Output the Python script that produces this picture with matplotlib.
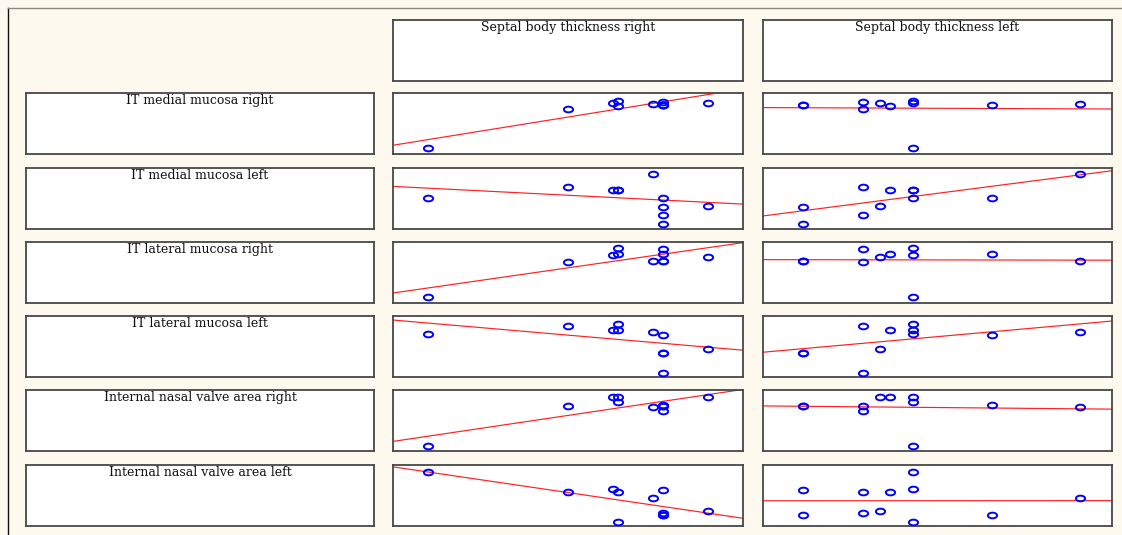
import numpy as np
import matplotlib
matplotlib.use("Agg")
import matplotlib.pyplot as plt
from matplotlib.path import Path
from matplotlib.lines import Line2D

# ---- data (one entry per subject) ----
septal_right = [1.4, 7.0, 8.8, 9.0, 9.0, 10.4, 10.8, 10.8, 10.8, 10.8, 12.6]
septal_left = [6.0, 4.0, 6.0, 5.1, 6.0, 12.7, 9.2, 1.6, 4.0, 1.6, 4.7]

it_medial_right = [1.0, 7.3, 8.4, 7.9, 8.7, 8.2, 8.1, 8.1, 8.5, 8.1, 8.4]
it_medial_left = [5.1, 6.9, 6.4, 6.4, 6.4, 9.0, 5.1, 3.6, 2.3, 0.8, 3.8]
it_lateral_right = [1.0, 6.7, 7.9, 8.0, 9.0, 6.9, 8.1, 6.9, 8.9, 6.9, 7.5]
it_lateral_left = [7.0, 8.4, 7.7, 7.7, 8.7, 7.4, 6.9, 3.9, 0.7, 3.9, 4.6]
valve_area_right = [0.8, 7.4, 8.9, 8.9, 8.0, 7.2, 7.5, 7.4, 6.6, 7.4, 8.9]
valve_area_left = [8.9, 5.6, 6.1, 5.6, 0.7, 4.6, 1.8, 5.9, 2.1, 1.8, 2.5]

column_labels = ["Septal body thickness right", "Septal body thickness left"]
row_labels = [
    "IT medial mucosa right",
    "IT medial mucosa left",
    "IT lateral mucosa right",
    "IT lateral mucosa left",
    "Internal nasal valve area right",
    "Internal nasal valve area left",
]

x_vars = [septal_right, septal_left]
y_vars = [it_medial_right, it_medial_left, it_lateral_right,
          it_lateral_left, valve_area_right, valve_area_left]

# ---- layout ----
W, H = 1122, 535
BG = "#fdf9ee"
fig = plt.figure(figsize=(W / 100, H / 100), dpi=100, facecolor=BG)

col_edges = [(26, 374), (393, 743), (763, 1112)]
row_tops = [20, 93, 168, 242, 316, 390, 465]
row_h = 61

FONT = dict(family="DejaVu Serif", size=9, color="#111111")

# open, slightly flattened circle marker
t = np.linspace(0, 2 * np.pi, 73)
ring = Path(np.column_stack([np.cos(t), 0.62 * np.sin(t)]), closed=True)


def panel(col, row):
    x0, x1 = col_edges[col]
    top = row_tops[row]
    ax = fig.add_axes([x0 / W, 1 - (top + row_h) / H, (x1 - x0) / W, row_h / H])
    ax.set_facecolor("white")
    ax.set_xticks([])
    ax.set_yticks([])
    for s in ax.spines.values():
        s.set_color("#474747")
        s.set_linewidth(1.3)
    return ax


def title(ax, text):
    ax.annotate(text, xy=(0.5, 1.0), xycoords="axes fraction",
                xytext=(0, -0.5), textcoords="offset points",
                ha="center", va="top", **FONT)


# header boxes
for c, lab in enumerate(column_labels):
    title(panel(c + 1, 0), lab)

# row label boxes and scatter panels
for r, lab in enumerate(row_labels):
    title(panel(0, r + 1), lab)
    y = np.asarray(y_vars[r], dtype=float)
    for c, xv in enumerate(x_vars):
        x = np.asarray(xv, dtype=float)
        ax = panel(c + 1, r + 1)
        ax.set_xlim(0, 14)
        ax.set_ylim(0, 10)
        slope, icpt = np.polyfit(x, y, 1)
        xs = np.array([0, 14])
        ax.plot(xs, icpt + slope * xs, color="#ff2020", lw=0.85, zorder=2)
        ax.plot(x, y, linestyle="none", marker=ring, markersize=6.6,
                markerfacecolor="none", markeredgecolor="#0000ff",
                markeredgewidth=1.4, zorder=3, clip_on=False)

# outer frame lines
fig.add_artist(Line2D([8 / W, 8 / W], [0, 1 - 8 / H], color="#111111", lw=1.0))
fig.add_artist(Line2D([8 / W, 1], [1 - 8 / H, 1 - 8 / H], color="#8a8a8a", lw=1.0))

fig.savefig("out.png", dpi=100, facecolor=BG)
